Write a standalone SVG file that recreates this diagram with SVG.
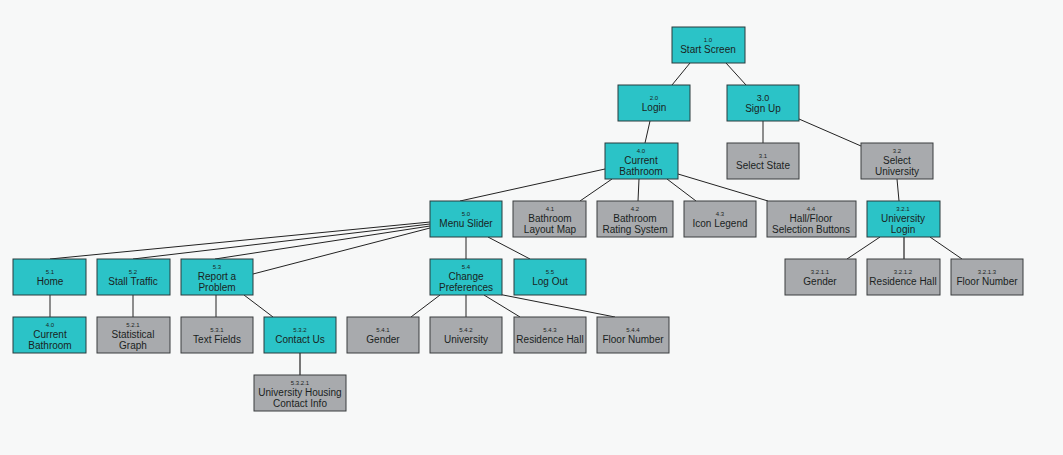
<svg xmlns="http://www.w3.org/2000/svg" width="1063" height="455" viewBox="0 0 1063 455">
<style>
.t rect{fill:#2bc3c7;stroke:#2a3a3c;stroke-width:1}
.g rect{fill:#a8aaad;stroke:#3a3c3e;stroke-width:1}
text{font-family:"Liberation Sans",Arial,sans-serif;fill:#1a1f22;text-anchor:middle}
.n{font-size:6px}
.l{font-size:10px}
#edges line{stroke:#222;stroke-width:1}
</style>
<rect width="1063" height="455" fill="#f7f8f8"/>
<g id="edges">
<line x1="690" y1="63" x2="672" y2="85"/>
<line x1="726" y1="63" x2="746" y2="85"/>
<line x1="650" y1="121" x2="645" y2="143"/>
<line x1="763" y1="121" x2="763" y2="143"/>
<line x1="799" y1="119" x2="861" y2="146"/>
<line x1="897" y1="179" x2="899" y2="201"/>
<line x1="605" y1="169" x2="460" y2="201"/>
<line x1="612" y1="179" x2="580" y2="201"/>
<line x1="639" y1="179" x2="638" y2="201"/>
<line x1="667" y1="179" x2="696" y2="201"/>
<line x1="678" y1="174" x2="768" y2="201"/>
<line x1="430" y1="222" x2="50" y2="259"/>
<line x1="430" y1="224" x2="133" y2="259"/>
<line x1="430" y1="226" x2="215" y2="259"/>
<line x1="430" y1="228" x2="253" y2="274"/>
<line x1="466" y1="237" x2="466" y2="259"/>
<line x1="488" y1="237" x2="530" y2="259"/>
<line x1="50" y1="295" x2="50" y2="317"/>
<line x1="133" y1="295" x2="133" y2="317"/>
<line x1="216" y1="295" x2="216" y2="317"/>
<line x1="244" y1="295" x2="273" y2="317"/>
<line x1="300" y1="353" x2="300" y2="375" style="stroke:#777;stroke-width:2"/>
<line x1="440" y1="295" x2="411" y2="317"/>
<line x1="466" y1="295" x2="466" y2="317"/>
<line x1="484" y1="295" x2="520" y2="317"/>
<line x1="498" y1="294" x2="615" y2="317"/>
<line x1="880" y1="237" x2="847" y2="259"/>
<line x1="904" y1="237" x2="904" y2="259" style="stroke:#777;stroke-width:2"/>
<line x1="930" y1="237" x2="962" y2="259"/>
</g>
<g id="n1_0" class="t"><rect x="672" y="27" width="73" height="36"/><text class="n" x="708" y="42">1.0</text><text class="l" x="708" y="53">Start Screen</text></g>
<g id="n2_0" class="t"><rect x="618" y="85" width="72" height="36"/><text class="n" x="654" y="100">2.0</text><text class="l" x="654" y="111">Login</text></g>
<g id="n3_0" class="t"><rect x="727" y="85" width="72" height="36"/><text style="font-size:9px" x="763" y="101">3.0</text><text class="l" x="763" y="112">Sign Up</text></g>
<g id="n4_0" class="t"><rect x="605" y="143" width="73" height="36"/><text class="n" x="641" y="153">4.0</text><text class="l" x="641" y="164">Current</text><text class="l" x="641" y="175">Bathroom</text></g>
<g id="n3_1" class="g"><rect x="727" y="143" width="72" height="36"/><text class="n" x="763" y="158">3.1</text><text class="l" x="763" y="169">Select State</text></g>
<g id="n3_2" class="g"><rect x="861" y="143" width="72" height="36"/><text class="n" x="897" y="153">3.2</text><text class="l" x="897" y="164">Select</text><text class="l" x="897" y="175">University</text></g>
<g id="n5_0" class="t"><rect x="430" y="201" width="72" height="36"/><text class="n" x="466" y="216">5.0</text><text class="l" x="466" y="227">Menu Slider</text></g>
<g id="n4_1" class="g"><rect x="513" y="201" width="73" height="36"/><text class="n" x="550" y="211">4.1</text><text class="l" x="550" y="222">Bathroom</text><text class="l" x="550" y="233">Layout Map</text></g>
<g id="n4_2" class="g"><rect x="597" y="201" width="76" height="36"/><text class="n" x="635" y="211">4.2</text><text class="l" x="635" y="222">Bathroom</text><text class="l" x="635" y="233">Rating System</text></g>
<g id="n4_3" class="g"><rect x="684" y="201" width="72" height="36"/><text class="n" x="720" y="216">4.3</text><text class="l" x="720" y="227">Icon Legend</text></g>
<g id="n4_4" class="g"><rect x="767" y="201" width="89" height="36"/><text class="n" x="811" y="211">4.4</text><text class="l" x="811" y="222">Hall/Floor</text><text class="l" x="811" y="233">Selection Buttons</text></g>
<g id="n3_2_1" class="t"><rect x="867" y="201" width="73" height="36"/><text class="n" x="903" y="211">3.2.1</text><text class="l" x="903" y="222">University</text><text class="l" x="903" y="233">Login</text></g>
<g id="n5_1" class="t"><rect x="13" y="259" width="73" height="36"/><text class="n" x="50" y="274">5.1</text><text class="l" x="50" y="285">Home</text></g>
<g id="n5_2" class="t"><rect x="97" y="259" width="73" height="36"/><text class="n" x="133" y="274">5.2</text><text class="l" x="133" y="285">Stall Traffic</text></g>
<g id="n5_3" class="t"><rect x="181" y="259" width="72" height="36"/><text class="n" x="217" y="269">5.3</text><text class="l" x="217" y="280">Report a</text><text class="l" x="217" y="291">Problem</text></g>
<g id="n5_4" class="t"><rect x="430" y="259" width="72" height="36"/><text class="n" x="466" y="269">5.4</text><text class="l" x="466" y="280">Change</text><text class="l" x="466" y="291">Preferences</text></g>
<g id="n5_5" class="t"><rect x="514" y="259" width="72" height="36"/><text class="n" x="550" y="274">5.5</text><text class="l" x="550" y="285">Log Out</text></g>
<g id="n4_0b" class="t"><rect x="13" y="317" width="73" height="36"/><text class="n" x="50" y="327">4.0</text><text class="l" x="50" y="338">Current</text><text class="l" x="50" y="349">Bathroom</text></g>
<g id="n5_2_1" class="g"><rect x="97" y="317" width="73" height="36"/><text class="n" x="133" y="327">5.2.1</text><text class="l" x="133" y="338">Statistical</text><text class="l" x="133" y="349">Graph</text></g>
<g id="n5_3_1" class="g"><rect x="181" y="317" width="72" height="36"/><text class="n" x="217" y="332">5.3.1</text><text class="l" x="217" y="343">Text Fields</text></g>
<g id="n5_3_2" class="t"><rect x="264" y="317" width="72" height="36"/><text class="n" x="300" y="332">5.3.2</text><text class="l" x="300" y="343">Contact Us</text></g>
<g id="n5_4_1" class="g"><rect x="347" y="317" width="72" height="36"/><text class="n" x="383" y="332">5.4.1</text><text class="l" x="383" y="343">Gender</text></g>
<g id="n5_4_2" class="g"><rect x="430" y="317" width="72" height="36"/><text class="n" x="466" y="332">5.4.2</text><text class="l" x="466" y="343">University</text></g>
<g id="n5_4_3" class="g"><rect x="514" y="317" width="72" height="36"/><text class="n" x="550" y="332">5.4.3</text><text class="l" x="550" y="343">Residence Hall</text></g>
<g id="n5_4_4" class="g"><rect x="597" y="317" width="72" height="36"/><text class="n" x="633" y="332">5.4.4</text><text class="l" x="633" y="343">Floor Number</text></g>
<g id="n5_3_2_1" class="g"><rect x="254" y="375" width="92" height="36"/><text class="n" x="300" y="385">5.3.2.1</text><text class="l" x="300" y="396">University Housing</text><text class="l" x="300" y="407">Contact Info</text></g>
<g id="n3_2_1_1" class="g"><rect x="785" y="259" width="71" height="36"/><text class="n" x="820" y="274">3.2.1.1</text><text class="l" x="820" y="285">Gender</text></g>
<g id="n3_2_1_2" class="g"><rect x="867" y="259" width="73" height="36"/><text class="n" x="903" y="274">3.2.1.2</text><text class="l" x="903" y="285">Residence Hall</text></g>
<g id="n3_2_1_3" class="g"><rect x="951" y="259" width="72" height="36"/><text class="n" x="987" y="274">3.2.1.3</text><text class="l" x="987" y="285">Floor Number</text></g>
</svg>
